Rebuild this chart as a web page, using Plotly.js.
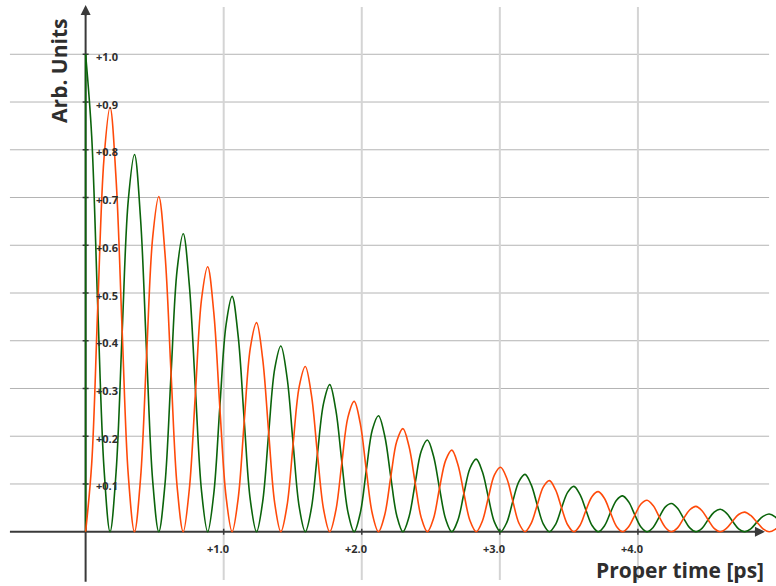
<!DOCTYPE html>
<html>
<head>
<meta charset="utf-8">
<script src="https://cdn.plot.ly/plotly-3.0.1.min.js"></script>
<style>html,body{margin:0;padding:0;background:#fff;}#chart{width:776px;height:586px;}</style>
</head>
<body>
<div id="chart"></div>
<script>
// Proper time samples [ps]
const t = [0,0.044,0.088,0.133,0.177,0.221,0.265,0.309,
0.354,0.398,0.442,0.486,0.530,0.575,0.619,0.663,
0.707,0.751,0.796,0.840,0.884,0.928,0.972,1.017,
1.061,1.105,1.149,1.193,1.238,1.282,1.326,1.370,
1.414,1.459,1.503,1.547,1.591,1.635,1.679,1.724,
1.768,1.812,1.856,1.900,1.945,1.989,2.033,2.077,
2.121,2.166,2.210,2.254,2.298,2.342,2.387,2.431,
2.475,2.519,2.563,2.608,2.652,2.696,2.740,2.784,
2.829,2.873,2.917,2.961,3.005,3.050,3.094,3.138,
3.182,3.226,3.271,3.315,3.359,3.403,3.447,3.492,
3.536,3.580,3.624,3.668,3.713,3.757,3.801,3.845,
3.889,3.934,3.978,4.022,4.066,4.110,4.155,4.199,
4.243,4.287,4.331,4.376,4.420,4.464,4.508,4.552,
4.596,4.641,4.685,4.729,4.773,4.817,4.862,4.906,
4.950,4.994,5.038];

// Green curve (unmixed)
const green = [1,0.829,0.471,0.134,0,0.126,0.419,0.694,
0.790,0.655,0.372,0.106,0,0.100,0.331,0.549,
0.624,0.517,0.294,0.084,0,0.079,0.261,0.433,
0.493,0.409,0.232,0.066,0,0.062,0.207,0.342,
0.389,0.323,0.184,0.052,0,0.049,0.163,0.270,
0.308,0.255,0.145,0.041,0,0.039,0.129,0.214,
0.243,0.201,0.115,0.033,0,0.031,0.102,0.169,
0.192,0.159,0.091,0.026,0,0.024,0.080,0.133,
0.152,0.126,0.072,0.020,0,0.019,0.064,0.105,
0.120,0.099,0.056,0.016,0,0.015,0.050,0.083,
0.095,0.078,0.045,0.013,0,0.012,0.040,0.066,
0.075,0.062,0.035,0.010,0,0.009,0.031,0.052,
0.059,0.049,0.028,0.008,0,0.007,0.025,0.041,
0.047,0.039,0.022,0.006,0,0.006,0.020,0.032,
0.037,0.031,0.017];

// Orange curve (mixed)
const orange = [0,0.142,0.471,0.781,0.889,0.737,0.419,0.119,
0,0.112,0.372,0.617,0.702,0.582,0.331,0.094,
0,0.089,0.294,0.488,0.555,0.460,0.261,0.074,
0,0.070,0.232,0.385,0.438,0.363,0.207,0.059,
0,0.055,0.184,0.304,0.346,0.287,0.163,0.046,
0,0.044,0.145,0.240,0.273,0.227,0.129,0.037,
0,0.035,0.115,0.190,0.216,0.179,0.102,0.029,
0,0.027,0.091,0.150,0.171,0.141,0.080,0.023,
0,0.022,0.072,0.119,0.135,0.112,0.064,0.018,
0,0.017,0.056,0.094,0.107,0.088,0.050,0.014,
0,0.013,0.045,0.074,0.084,0.070,0.040,0.011,
0,0.011,0.035,0.058,0.066,0.055,0.031,0.009,
0,0.008,0.028,0.046,0.053,0.044,0.025,0.007,
0,0.007,0.022,0.036,0.041,0.034,0.020,0.006,
0,0.005,0.017];

const xTicks = [1, 2, 3, 4];
const xTickLabels = ["+1.0", "+2.0", "+3.0", "+4.0"];
const yTicks = [0.1, 0.2, 0.3, 0.4, 0.5, 0.6, 0.7, 0.8, 0.9, 1.0];
const yTickLabels = ["+0.1", "+0.2", "+0.3", "+0.4", "+0.5", "+0.6", "+0.7", "+0.8", "+0.9", "+1.0"];
const xTitle = "Proper time [ps]";
const yTitle = "Arb. Units";

const xRange = [-0.62, 5.0];
const yRange = [-0.1137, 1.1137];
const gridX = [-0.548, 4.95];
const gridY = [-0.101, 1.099];
const axisCol = "#3a3a3a";
const textCol = "#2e2e2e";
const FONT = "Open Sans, DejaVu Sans, sans-serif";

const traces = [
  {x: [t[0], t[0]], y: [0, green[0]], mode: "lines", line: {color: "#0b640b", width: 1.6}, hoverinfo: "skip"},
  {x: t, y: green, mode: "lines", line: {color: "#0b640b", width: 1.6, shape: "spline", smoothing: 1}, hoverinfo: "skip"},
  {x: t, y: orange, mode: "lines", line: {color: "#ff4a0a", width: 1.6, shape: "spline", smoothing: 1}, hoverinfo: "skip"}
];

const shapes = [];
yTicks.forEach(v => shapes.push({type: "line", layer: "below", xref: "x", yref: "y", x0: gridX[0], x1: gridX[1], y0: v, y1: v, line: {color: "#b4b4b4", width: 1}}));
xTicks.forEach(v => shapes.push({type: "line", layer: "below", xref: "x", yref: "y", x0: v, x1: v, y0: gridY[0], y1: gridY[1], line: {color: "#d4d4d4", width: 2}}));
// axes
shapes.push({type: "line", layer: "below", xref: "x", yref: "y", x0: gridX[0], x1: 4.90, y0: 0, y1: 0, line: {color: axisCol, width: 2}});
shapes.push({type: "line", layer: "below", xref: "x", yref: "y", x0: 0, x1: 0, y0: -0.105, y1: 1.09, line: {color: axisCol, width: 2}});
// tick marks
yTicks.forEach(v => shapes.push({type: "line", layer: "below", xref: "x", yref: "y", xsizemode: "pixel", xanchor: 0, x0: -3, x1: 3, y0: v, y1: v, line: {color: axisCol, width: 1.5}}));
xTicks.forEach(v => shapes.push({type: "line", layer: "below", xref: "x", yref: "y", ysizemode: "pixel", yanchor: 0, y0: -3, y1: 3, x0: v, x1: v, line: {color: axisCol, width: 1.5}}));

const annotations = [];
yTicks.forEach((v, i) => annotations.push({x: 0, y: v, xref: "x", yref: "y", text: yTickLabels[i], showarrow: false, xanchor: "left", yanchor: "middle", xshift: 8, yshift: -2, font: {family: FONT, size: 11, color: textCol, weight: "bold"}}));
xTicks.forEach((v, i) => annotations.push({x: v, y: 0, xref: "x", yref: "y", text: xTickLabels[i], showarrow: false, xanchor: "center", yanchor: "middle", xshift: -6, yshift: -17, font: {family: FONT, size: 11, color: textCol, weight: "bold"}}));
// arrowheads
annotations.push({x: 4.92, y: 0, xref: "x", yref: "y", ax: -12, ay: 0, text: "", showarrow: true, arrowhead: 2, arrowsize: 1, arrowwidth: 2, arrowcolor: axisCol, standoff: 0});
annotations.push({x: 0, y: 1.103, xref: "x", yref: "y", ax: 0, ay: 12, text: "", showarrow: true, arrowhead: 2, arrowsize: 1, arrowwidth: 2, arrowcolor: axisCol, standoff: 0});
// titles
annotations.push({x: 0, y: 1.0, xref: "x", yref: "y", text: yTitle, showarrow: false, textangle: -90, xanchor: "center", yanchor: "middle", xshift: -26, yshift: -17, font: {family: FONT, size: 21, color: textCol, weight: "bold"}});
annotations.push({x: 4.93, y: 0, xref: "x", yref: "y", text: xTitle, showarrow: false, xanchor: "right", yanchor: "middle", yshift: -38, font: {family: FONT, size: 21, color: textCol, weight: "bold"}});

const layout = {
  width: 776, height: 586, autosize: false,
  margin: {l: 0, r: 0, t: 0, b: 0, pad: 0},
  paper_bgcolor: "#ffffff", plot_bgcolor: "#ffffff",
  showlegend: false,
  xaxis: {range: xRange, visible: false, fixedrange: true},
  yaxis: {range: yRange, visible: false, fixedrange: true},
  shapes: shapes,
  annotations: annotations
};

Plotly.newPlot("chart", traces, layout, {displayModeBar: false, staticPlot: true});
</script>
</body>
</html>
